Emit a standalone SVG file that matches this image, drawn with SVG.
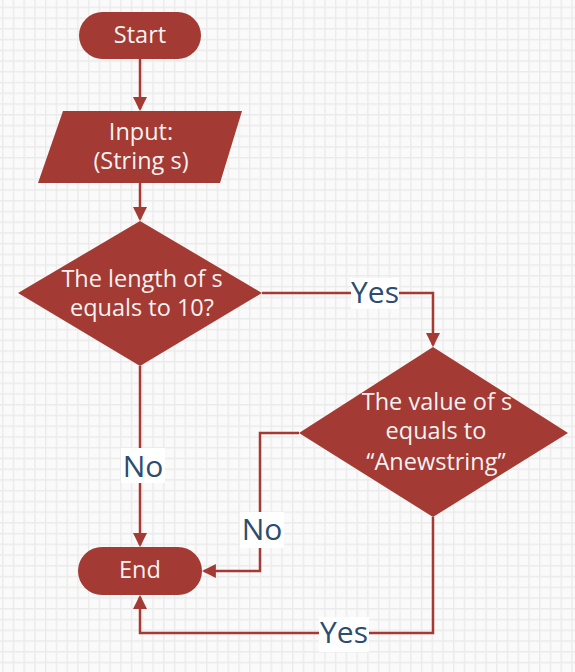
<svg xmlns="http://www.w3.org/2000/svg" width="575" height="672" viewBox="0 0 575 672">
<style>
.shape{fill:#a33a33;}
.ntext{fill:#f7f2f1;font-family:"Open Sans","Noto Sans",sans-serif;font-size:23.5px;text-anchor:middle;}
.conn{fill:none;stroke:#a33a33;stroke-width:2.5;}
.lblbg{fill:#ffffff;}
.lbl{fill:#2c4d70;font-family:"Open Sans","Noto Sans",sans-serif;font-size:30px;text-anchor:middle;}
</style>
<defs>
<pattern id="grid" patternUnits="userSpaceOnUse" x="2" y="6.6" width="10.74" height="10.74">
<rect width="10.74" height="10.74" fill="#fafafa"/>
<path d="M0.7 0V10.74M0 0.7H10.74" stroke="#ebebeb" stroke-width="1.4" fill="none"/>
</pattern>
<marker id="arr" viewBox="0 0 10 10" refX="8.5" refY="5" markerWidth="14" markerHeight="14" markerUnits="userSpaceOnUse" orient="auto">
<path d="M0,0 L10,5 L0,10 z" fill="#a33a33"/>
</marker>
</defs>
<rect width="575" height="672" fill="url(#grid)"/>
<g id="connectors">
<path class="conn" d="M140 59V109" marker-end="url(#arr)"/>
<path class="conn" d="M140 183V219" marker-end="url(#arr)"/>
<path class="conn" d="M262 293H433V345" marker-end="url(#arr)"/>
<path class="conn" d="M140 366V545" marker-end="url(#arr)"/>
<path class="conn" d="M299 433H260V571H204" marker-end="url(#arr)"/>
<path class="conn" d="M433 517V633H140V597" marker-end="url(#arr)"/>
<rect class="lblbg" x="351" y="278" width="48" height="31"/>
<text class="lbl" x="375" y="303">Yes</text>
<rect class="lblbg" x="121" y="448" width="44" height="35"/>
<text class="lbl" x="143" y="477">No</text>
<rect class="lblbg" x="240" y="512" width="44" height="36"/>
<text class="lbl" x="262" y="540">No</text>
<rect class="lblbg" x="319" y="617" width="50" height="35"/>
<text class="lbl" x="344" y="643">Yes</text>
</g>
<g id="start">
<rect class="shape" x="79" y="12" width="122" height="47" rx="23.5"/>
<text class="ntext" x="140" y="43">Start</text>
</g>
<g id="input">
<polygon class="shape" points="63,111 242,111 220,183 38,183"/>
<text class="ntext" x="141" y="139.5">Input:</text>
<text class="ntext" x="141" y="168.5">(String s)</text>
</g>
<g id="decision1">
<polygon class="shape" points="140,221 262,293 140,366 18,293"/>
<text class="ntext" x="142" y="287">The length of s</text>
<text class="ntext" x="142" y="316">equals to 10?</text>
</g>
<g id="decision2">
<polygon class="shape" points="433,347 568,433 433,517 299,433"/>
<text class="ntext" x="437" y="410">The value of s</text>
<text class="ntext" x="436" y="439">equals to</text>
<text class="ntext" x="436" y="470">“Anewstring”</text>
</g>
<g id="end">
<rect class="shape" x="78" y="547" width="124" height="48" rx="24"/>
<text class="ntext" x="140" y="578">End</text>
</g>
</svg>
